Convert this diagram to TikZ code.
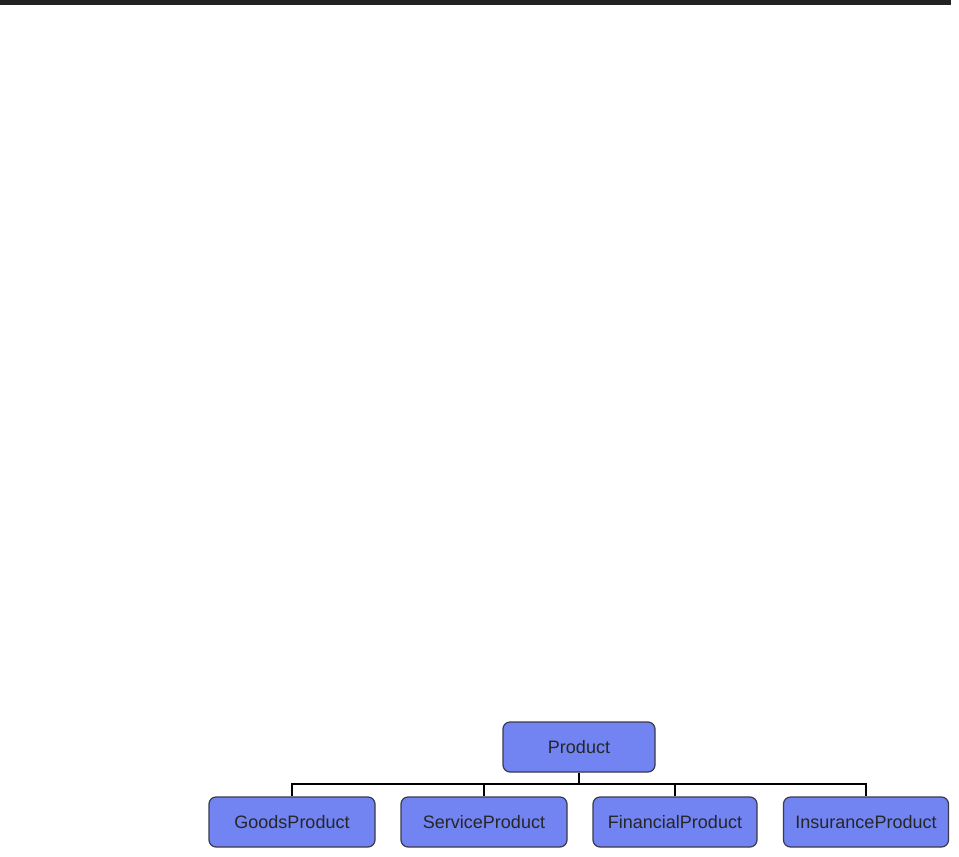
\documentclass[tikz,border=0pt]{standalone}
\usepackage{fontspec}
\setmainfont{Liberation Sans}
\definecolor{boxfill}{HTML}{7283F2}
\definecolor{boxline}{HTML}{3A3A4A}
\definecolor{barcol}{HTML}{222222}
\begin{document}
\begin{tikzpicture}[x=1pt,y=-1pt,
  cls/.style={draw=boxline, line width=1.2pt, fill=boxfill, rounded corners=7pt,
    minimum height=50pt, inner sep=0pt, font=\fontsize{18}{20}\selectfont, text=black!85},
  link/.style={draw=black, line width=2.2pt}]
\useasboundingbox (0,0) rectangle (959,857);
\fill[barcol] (0,0) rectangle (951,4.5);
\node[cls, minimum width=152pt] (p) at (579,747) {Product};
\node[cls, minimum width=166pt] (g) at (292,822) {GoodsProduct};
\node[cls, minimum width=166pt] (s) at (484,822) {ServiceProduct};
\node[cls, minimum width=164pt] (f) at (675,822) {FinancialProduct};
\node[cls, minimum width=165pt] (i) at (866,822) {InsuranceProduct};
\coordinate (j) at (579,784);
\draw[link] (p.south) -- (j);
\draw[link] (g.north) |- (j) -| (i.north);
\draw[link] (s.north) -- (s.north |- j);
\draw[link] (f.north) -- (f.north |- j);
\end{tikzpicture}
\end{document}
